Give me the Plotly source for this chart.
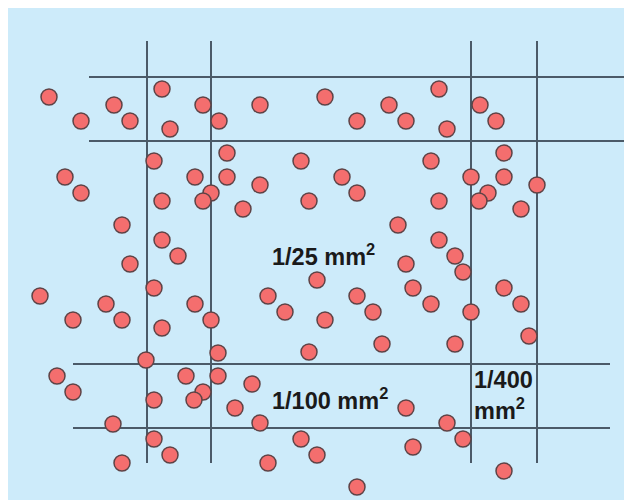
import plotly.graph_objects as go

# Cell positions (screen pixel coordinates)
cell_x = [49, 81, 114, 130, 162, 170, 203, 219, 154, 260, 325, 357, 389, 406, 227, 301,
          439, 480, 496, 447, 504, 431, 65, 81, 122, 130, 40, 106, 73, 122, 162, 162,
          178, 154, 195, 211, 203, 195, 211, 162, 227, 260, 243, 309, 342, 357, 398, 406,
          413, 317, 268, 285, 357, 373, 325, 471, 504, 537, 488, 479, 439, 521, 439, 455,
          463, 431, 504, 521, 471, 529, 146, 57, 73, 186, 203, 194, 154, 113, 154, 170,
          122, 218, 218, 309, 382, 252, 235, 260, 301, 317, 268, 357, 406, 413, 455, 447,
          463, 504]
cell_y = [97, 121, 105, 121, 89, 129, 105, 121, 161, 105, 97, 121, 105, 121, 153, 161,
          89, 105, 121, 129, 153, 161, 177, 193, 225, 264, 296, 304, 320, 320, 201, 240,
          256, 288, 177, 193, 201, 304, 320, 328, 177, 185, 209, 201, 177, 193, 225, 264,
          288, 280, 296, 312, 296, 312, 320, 177, 177, 185, 193, 201, 201, 209, 240, 256,
          272, 304, 288, 304, 312, 336, 360, 376, 392, 376, 392, 400, 400, 424, 439, 455,
          463, 353, 376, 352, 344, 384, 408, 423, 439, 455, 463, 487, 408, 447, 344, 423,
          439, 471]

# Grid lines
vert_x = [147, 211, 471, 537]
vert_span = [41, 463]
top_h_y = [77, 141]
top_h_span = [89, 625]
bot_h_y = [364, 428]
bot_h_span = [73, 610]

labels = ["1/25 mm<sup>2</sup>", "1/100 mm<sup>2</sup>", "1/400<br>mm<sup>2</sup>"]
label_x = [323, 330, 472]
label_y = [255, 399, 395]

line_color = "#4b5a68"

lx, ly = [], []
for x in vert_x:
    lx += [x, x, None]
    ly += [vert_span[0], vert_span[1], None]
for y in top_h_y:
    lx += [top_h_span[0], top_h_span[1], None]
    ly += [y, y, None]
for y in bot_h_y:
    lx += [bot_h_span[0], bot_h_span[1], None]
    ly += [y, y, None]

fig = go.Figure()
fig.add_trace(go.Scatter(x=lx, y=ly, mode="lines",
                         line=dict(color=line_color, width=2),
                         hoverinfo="skip", showlegend=False))
fig.add_trace(go.Scatter(x=cell_x, y=cell_y, mode="markers",
                         marker=dict(size=16, color="#f46e6e",
                                     line=dict(color="#5e4346", width=1.5)),
                         showlegend=False))

font = dict(family="Liberation Sans, Arial, sans-serif", size=23.5, color="#1a1a1a")
fig.add_annotation(x=label_x[0], y=label_y[0], text="<b>" + labels[0] + "</b>",
                   showarrow=False, xanchor="center", yanchor="middle", font=font)
fig.add_annotation(x=label_x[1], y=label_y[1], text="<b>" + labels[1] + "</b>",
                   showarrow=False, xanchor="center", yanchor="middle", font=font)
fig.add_annotation(x=label_x[2], y=label_y[2], text="<b>" + labels[2] + "</b>",
                   showarrow=False, xanchor="left", yanchor="middle", align="left",
                   font=font)

# The page body adds an 8px offset; axis ranges map screen pixels directly
fig.update_layout(width=632, height=500, margin=dict(l=0, r=0, t=0, b=0),
                  paper_bgcolor="#cdebfa", plot_bgcolor="#cdebfa",
                  xaxis=dict(range=[8, 640], visible=False, fixedrange=True),
                  yaxis=dict(range=[508, 8], visible=False, fixedrange=True))

fig.write_html("out.html")
